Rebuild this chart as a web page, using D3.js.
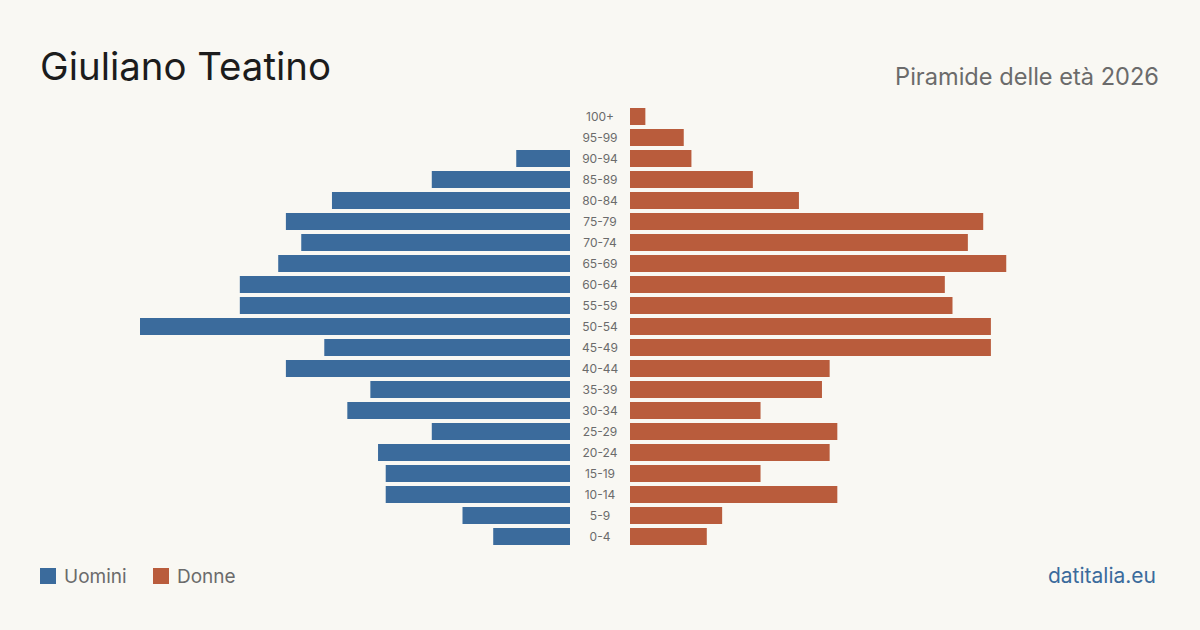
<!DOCTYPE html>
<html><head><meta charset="utf-8">
<script src="https://cdn.jsdelivr.net/npm/d3@7"></script>
<style>
html,body{margin:0;padding:0;background:#f9f8f3;}
svg{display:block;font-family:Inter,"Noto Sans",sans-serif;}
</style></head>
<body>
<svg id="c" width="1200" height="630"></svg>
<script>
const ageGroups = ["100+","95-99","90-94","85-89","80-84","75-79","70-74","65-69","60-64","55-59","50-54","45-49","40-44","35-39","30-34","25-29","20-24","15-19","10-14","5-9","0-4"];
const men   = [0,0,7,18,31,37,35,38,43,43,56,32,37,26,29,18,25,24,24,14,10];
const women = [2,7,8,16,22,46,44,49,41,42,47,47,26,25,17,27,26,17,27,12,10];
const title = "Giuliano Teatino";
const subtitle = "Piramide delle età 2026";
const legendLabels = ["Uomini","Donne"];
const source = "datitalia.eu";

const colors = {men:"#3b6b9c", women:"#b95c3c"};
const svg = d3.select("#c");
svg.append("rect").attr("width",1200).attr("height",630).attr("fill","#f9f8f3");

const y = d3.scaleBand().domain(ageGroups).range([108,545]).paddingInner(4/21).paddingOuter(0);
const x = d3.scaleLinear().domain([0,56]).range([0,430]);
const leftEdge = 570, rightEdge = 630;

svg.append("g").selectAll("rect").data(ageGroups).join("rect")
  .attr("x",(d,i)=>leftEdge - x(men[i]))
  .attr("y",d=>y(d))
  .attr("width",(d,i)=>x(men[i]))
  .attr("height",y.bandwidth())
  .attr("fill",colors.men);

svg.append("g").selectAll("rect").data(ageGroups).join("rect")
  .attr("x",rightEdge)
  .attr("y",d=>y(d))
  .attr("width",(d,i)=>x(women[i]))
  .attr("height",y.bandwidth())
  .attr("fill",colors.women);

svg.append("g").selectAll("text").data(ageGroups).join("text")
  .attr("x",600)
  .attr("y",d=>y(d)+y.bandwidth()/2)
  .attr("dy","0.36em")
  .attr("text-anchor","middle")
  .attr("font-size",12)
  .attr("fill","#6b6b6b")
  .text(d=>d);

svg.append("text").attr("x",40).attr("y",80).attr("font-size",38.4).attr("fill","#1c1c1c").text(title);
svg.append("text").attr("x",1159).attr("y",85).attr("text-anchor","end").attr("font-size",23.6).attr("fill","#6b6b6b").text(subtitle);

const lg = svg.append("g");
const lx = [40,153];
legendLabels.forEach((l,i)=>{
  lg.append("rect").attr("x",lx[i]).attr("y",568).attr("width",16).attr("height",16).attr("fill",i===0?colors.men:colors.women);
  lg.append("text").attr("x",lx[i]+24).attr("y",583).attr("font-size",19).attr("fill","#6b6b6b").text(l);
});
svg.append("text").attr("x",1156).attr("y",583).attr("text-anchor","end").attr("font-size",21).attr("fill","#3b6b9c").text(source);
</script>
</body></html>
